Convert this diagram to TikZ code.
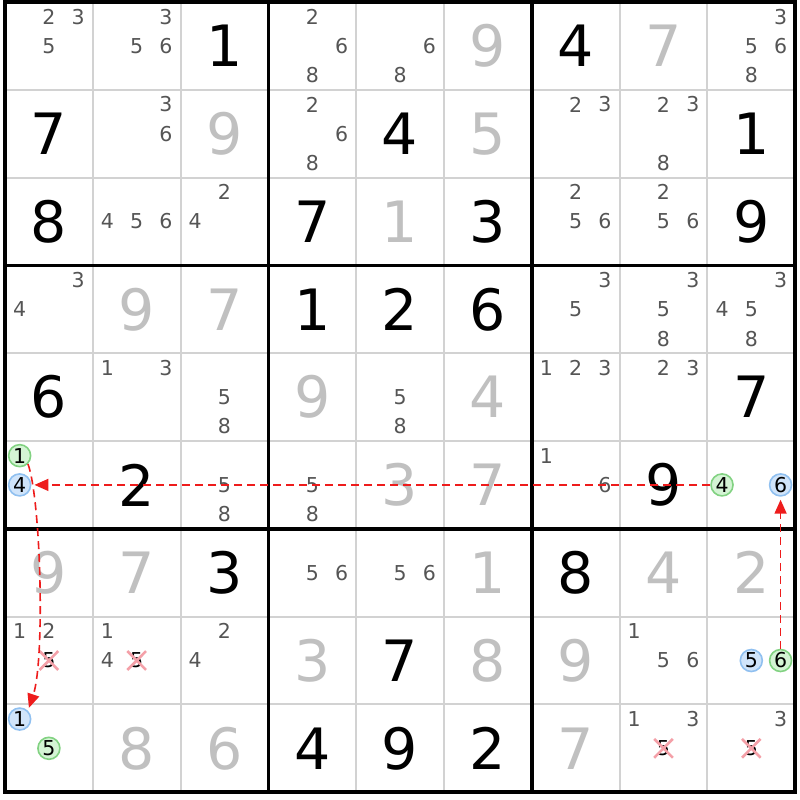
\documentclass[tikz,border=0pt]{standalone}
\usepackage{fontspec}
\setmainfont{DejaVu Sans}
\usetikzlibrary{arrows.meta, shapes.misc}
\definecolor{wgrid}{HTML}{D2D2D2}
\definecolor{wpencil}{HTML}{555555}
\definecolor{wsolved}{HTML}{C0C0C0}
\definecolor{wgreenfill}{HTML}{D4F4D4}
\definecolor{wgreenline}{HTML}{82D282}
\definecolor{wbluefill}{HTML}{D0E4FA}
\definecolor{wblueline}{HTML}{90C0F0}
\definecolor{wred}{HTML}{EE1C1C}
\definecolor{wpink}{HTML}{F4A0A8}

\tikzset{
  given/.style={font=\fontsize{57}{57}\selectfont, text=black, inner sep=0pt},
  solved/.style={given, text=wsolved},
  cand/.style={font=\fontsize{20.5}{20.5}\selectfont, text=wpencil, inner sep=0pt},
  ongreen/.style={cand, text=black, circle, draw=wgreenline, fill=wgreenfill, line width=1.6pt, minimum size=22pt},
  onblue/.style={cand, text=black, circle, draw=wblueline, fill=wbluefill, line width=1.6pt, minimum size=22pt},
  struck/.style={cand, text=black, cross out, draw=wpink, line width=2.6pt, inner xsep=1.5pt, inner ysep=0.5pt},
  link/.style={wred, dash pattern=on 8pt off 5pt, line width=1.6pt, -{Triangle[length=14pt, width=12pt]}, shorten >=3pt},
}

% cell value: [style]{row}{col}{digit}
\newcommand\val[4][given]{%
  \node[#1] (v#2#3) at ({5+(#3+0.5)*87.8}, {2+(#2+0.5)*87.8}) {#4};}
% pencil mark: [style]{row}{col}{digit}
\newcommand\cand[4][cand]{%
  \pgfmathsetmacro\cx{5+#3*87.8+(mod(#4-1,3)+0.5)*29.27}%
  \pgfmathsetmacro\cy{2+#2*87.8+(floor((#4-1)/3)+0.5)*29.27}%
  \node[#1] (c#2#3#4) at (\cx, \cy) {#4};}

\begin{document}
\begin{tikzpicture}[x=1pt, y=-1pt]
  \fill[white] (0,0) rectangle (800,800);
  \useasboundingbox (0,0) rectangle (800,800);

  % grid
  \foreach \i in {1,2,4,5,7,8}{
    \draw[wgrid, line width=2pt] ({5+\i*87.8}, 2) -- ({5+\i*87.8}, 792);
    \draw[wgrid, line width=2pt] (5, {2+\i*87.8}) -- (795, {2+\i*87.8});
  }
  \foreach \i in {3,6}{
    \draw[line width=3.8pt] ({5+\i*87.8}, 2) -- ({5+\i*87.8}, 792);
    \draw[line width=3.8pt] (5, {2+\i*87.8}) -- (795, {2+\i*87.8});
  }
  \draw[line width=3.8pt] (5,2) rectangle (795,792);

  % row 0
  \cand{0}{0}{2}\cand{0}{0}{3}\cand{0}{0}{5}
  \cand{0}{1}{3}\cand{0}{1}{5}\cand{0}{1}{6}
  \val{0}{2}{1}
  \cand{0}{3}{2}\cand{0}{3}{6}\cand{0}{3}{8}
  \cand{0}{4}{6}\cand{0}{4}{8}
  \val[solved]{0}{5}{9}
  \val{0}{6}{4}
  \val[solved]{0}{7}{7}
  \cand{0}{8}{3}\cand{0}{8}{5}\cand{0}{8}{6}\cand{0}{8}{8}
  % row 1
  \val{1}{0}{7}
  \cand{1}{1}{3}\cand{1}{1}{6}
  \val[solved]{1}{2}{9}
  \cand{1}{3}{2}\cand{1}{3}{6}\cand{1}{3}{8}
  \val{1}{4}{4}
  \val[solved]{1}{5}{5}
  \cand{1}{6}{2}\cand{1}{6}{3}
  \cand{1}{7}{2}\cand{1}{7}{3}\cand{1}{7}{8}
  \val{1}{8}{1}
  % row 2
  \val{2}{0}{8}
  \cand{2}{1}{4}\cand{2}{1}{5}\cand{2}{1}{6}
  \cand{2}{2}{2}\cand{2}{2}{4}
  \val{2}{3}{7}
  \val[solved]{2}{4}{1}
  \val{2}{5}{3}
  \cand{2}{6}{2}\cand{2}{6}{5}\cand{2}{6}{6}
  \cand{2}{7}{2}\cand{2}{7}{5}\cand{2}{7}{6}
  \val{2}{8}{9}
  % row 3
  \cand{3}{0}{3}\cand{3}{0}{4}
  \val[solved]{3}{1}{9}
  \val[solved]{3}{2}{7}
  \val{3}{3}{1}
  \val{3}{4}{2}
  \val{3}{5}{6}
  \cand{3}{6}{3}\cand{3}{6}{5}
  \cand{3}{7}{3}\cand{3}{7}{5}\cand{3}{7}{8}
  \cand{3}{8}{3}\cand{3}{8}{4}\cand{3}{8}{5}\cand{3}{8}{8}
  % row 4
  \val{4}{0}{6}
  \cand{4}{1}{1}\cand{4}{1}{3}
  \cand{4}{2}{5}\cand{4}{2}{8}
  \val[solved]{4}{3}{9}
  \cand{4}{4}{5}\cand{4}{4}{8}
  \val[solved]{4}{5}{4}
  \cand{4}{6}{1}\cand{4}{6}{2}\cand{4}{6}{3}
  \cand{4}{7}{2}\cand{4}{7}{3}
  \val{4}{8}{7}
  % row 5
  \cand[ongreen]{5}{0}{1}\cand[onblue]{5}{0}{4}
  \val{5}{1}{2}
  \cand{5}{2}{5}\cand{5}{2}{8}
  \cand{5}{3}{5}\cand{5}{3}{8}
  \val[solved]{5}{4}{3}
  \val[solved]{5}{5}{7}
  \cand{5}{6}{1}\cand{5}{6}{6}
  \val{5}{7}{9}
  \cand[ongreen]{5}{8}{4}\cand[onblue]{5}{8}{6}
  % row 6
  \val[solved]{6}{0}{9}
  \val[solved]{6}{1}{7}
  \val{6}{2}{3}
  \cand{6}{3}{5}\cand{6}{3}{6}
  \cand{6}{4}{5}\cand{6}{4}{6}
  \val[solved]{6}{5}{1}
  \val{6}{6}{8}
  \val[solved]{6}{7}{4}
  \val[solved]{6}{8}{2}
  % row 7
  \cand{7}{0}{1}\cand{7}{0}{2}\cand[struck]{7}{0}{5}
  \cand{7}{1}{1}\cand{7}{1}{4}\cand[struck]{7}{1}{5}
  \cand{7}{2}{2}\cand{7}{2}{4}
  \val[solved]{7}{3}{3}
  \val{7}{4}{7}
  \val[solved]{7}{5}{8}
  \val[solved]{7}{6}{9}
  \cand{7}{7}{1}\cand{7}{7}{5}\cand{7}{7}{6}
  \cand[onblue]{7}{8}{5}\cand[ongreen]{7}{8}{6}
  % row 8
  \cand[onblue]{8}{0}{1}\cand[ongreen]{8}{0}{5}
  \val[solved]{8}{1}{8}
  \val[solved]{8}{2}{6}
  \val{8}{3}{4}
  \val{8}{4}{9}
  \val{8}{5}{2}
  \val[solved]{8}{6}{7}
  \cand{8}{7}{1}\cand{8}{7}{3}\cand[struck]{8}{7}{5}
  \cand{8}{8}{3}\cand[struck]{8}{8}{5}

  % chain links
  \draw[link] (c584) -- (c504);
  \draw[link] (c501.south east) .. controls (41,500) and (45,660) .. (c801.north east);
  \draw[link] (c786) -- (c586);
\end{tikzpicture}
\end{document}
